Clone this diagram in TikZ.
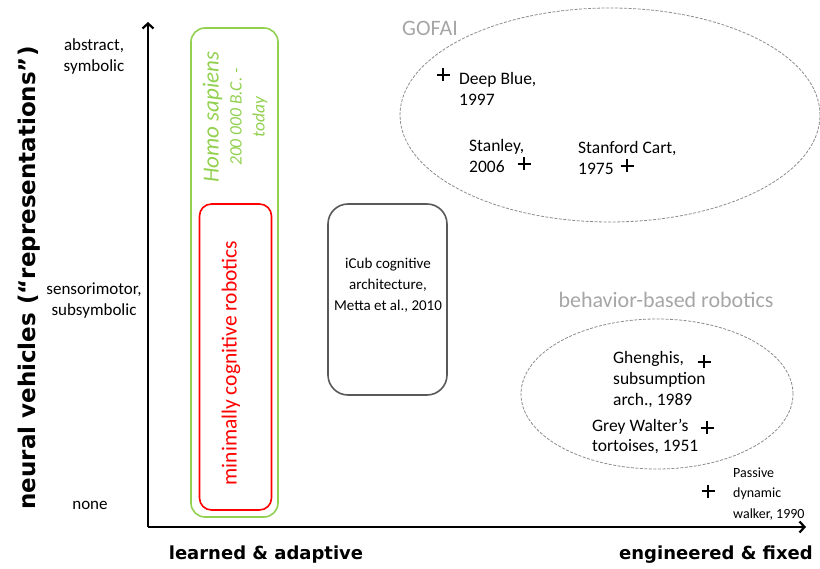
\documentclass[tikz,border=0pt]{standalone}
\usepackage{fontspec}
\setmainfont{Carlito}
\newfontfamily\axisfont{DejaVu Sans}
\usetikzlibrary{positioning,shapes.geometric,arrows.meta}
\definecolor{sapgreen}{RGB}{146,208,80}
\definecolor{boxgrey}{RGB}{89,89,89}
\definecolor{labelgrey}{RGB}{166,166,166}
\definecolor{dashgrey}{RGB}{140,140,140}
\tikzset{
	plusmark/.pic={\draw[line width=2.4pt] (-6.5,0) -- (6.5,0) (0,-6.5) -- (0,6.5);},
	entry/.style={align=left, inner sep=0pt, anchor=base west, font=\fontsize{17.5}{21.5}\selectfont},
	level/.style={align=center, inner sep=0pt, font=\fontsize{17}{21}\selectfont},
	axislabel/.style={inner sep=0pt, font=\axisfont\bfseries\fontsize{18}{22}\selectfont},
	group/.style={draw=dashgrey, dash pattern=on 3pt off 1.5pt, line width=0.8pt, ellipse, inner sep=0pt},
	grouplabel/.style={text=labelgrey, inner sep=0pt, font=\fontsize{22}{26}\selectfont},
}
\begin{document}
\begin{tikzpicture}[x=1pt, y=-1pt]
	\useasboundingbox (0,0) rectangle (820,569);

	\coordinate (origin) at (148,527);
	\coordinate (ytop) at (148,22);
	\coordinate (xend) at (806,527);
	\draw[line width=2.2pt, -{Straight Barb[length=5pt,width=11pt]}] (origin) -- (ytop);
	\draw[line width=2.2pt, -{Straight Barb[length=5pt,width=11pt]}] (origin) -- (xend);

	\node (ylabel) [axislabel, rotate=90, font=\axisfont\bfseries\fontsize{23}{26}\selectfont] at (29,278) {neural vehicles (“representations”)};
	\node (learned) [axislabel] at (266,555) {learned \& adaptive};
	\node (engineered) [axislabel] at (716,555) {engineered \& fixed};

	\node (abstract) [level] at (94,56) {abstract,\\symbolic};
	\node (sensori) [level] at (94,301) {sensorimotor,\\subsymbolic};
	\node (none) [level] at (90,505) {none};

	\node (homo) [draw=sapgreen, line width=1.6pt, rounded corners=14pt, minimum width=87pt, minimum height=489pt] at (234.5,272.5) {};
	\node (homotext) [rotate=90, text=sapgreen, align=center, inner sep=0pt, font=\itshape\fontsize{17.5}{23}\selectfont] at (235,117)
		{{\fontsize{23}{26}\selectfont Homo sapiens}\\200 000 B.C. -\\today};
	\node (minimal) [draw=red, line width=1.6pt, rounded corners=12pt, minimum width=72pt, minimum height=306pt] at (235.5,357) {};
	\node (minimaltext) [rotate=90, text=red, inner sep=0pt, font=\fontsize{21.5}{24}\selectfont] at (231,363) {minimally cognitive robotics};

	\node (icub) [draw=boxgrey, line width=1.6pt, rounded corners=20pt, minimum width=119pt, minimum height=191pt] at (387.5,299.5) {};
	\node (icubtext) [align=center, inner sep=0pt, font=\fontsize{15}{21}\selectfont] at (388,285) {iCub cognitive\\architecture,\\Metta et al., 2010};

	\node (gofai) [group, minimum width=420pt, minimum height=214pt] at (610,115) {};
	\node (gofaitext) [grouplabel] at (430,28) {GOFAI};
	\pic at (443,75) {plusmark};
	\node (deepblue) [entry] at (459,106) {Deep Blue,\\1997};
	\pic at (524,164) {plusmark};
	\node (stanley) [entry] at (469,173) {Stanley,\\2006};
	\pic at (627,166) {plusmark};
	\node (cart) [entry] at (578,175) {Stanford Cart,\\1975};

	\node (behavior) [group, minimum width=272pt, minimum height=150pt] at (657,394) {};
	\node (behaviortext) [grouplabel] at (666,300) {behavior-based robotics};
	\pic at (704,362) {plusmark};
	\node (ghenghis) [entry, font=\fontsize{17.5}{21}\selectfont] at (613,406) {Ghenghis,\\subsumption\\arch., 1989};
	\pic at (707,428) {plusmark};
	\node (grey) [entry, font=\fontsize{17.5}{20.5}\selectfont] at (592,452) {Grey Walter’s\\tortoises, 1951};
	\pic at (708,491) {plusmark};
	\node (passive) [entry, font=\fontsize{14}{20.5}\selectfont] at (733,518) {Passive\\dynamic\\walker, 1990};
\end{tikzpicture}
\end{document}
